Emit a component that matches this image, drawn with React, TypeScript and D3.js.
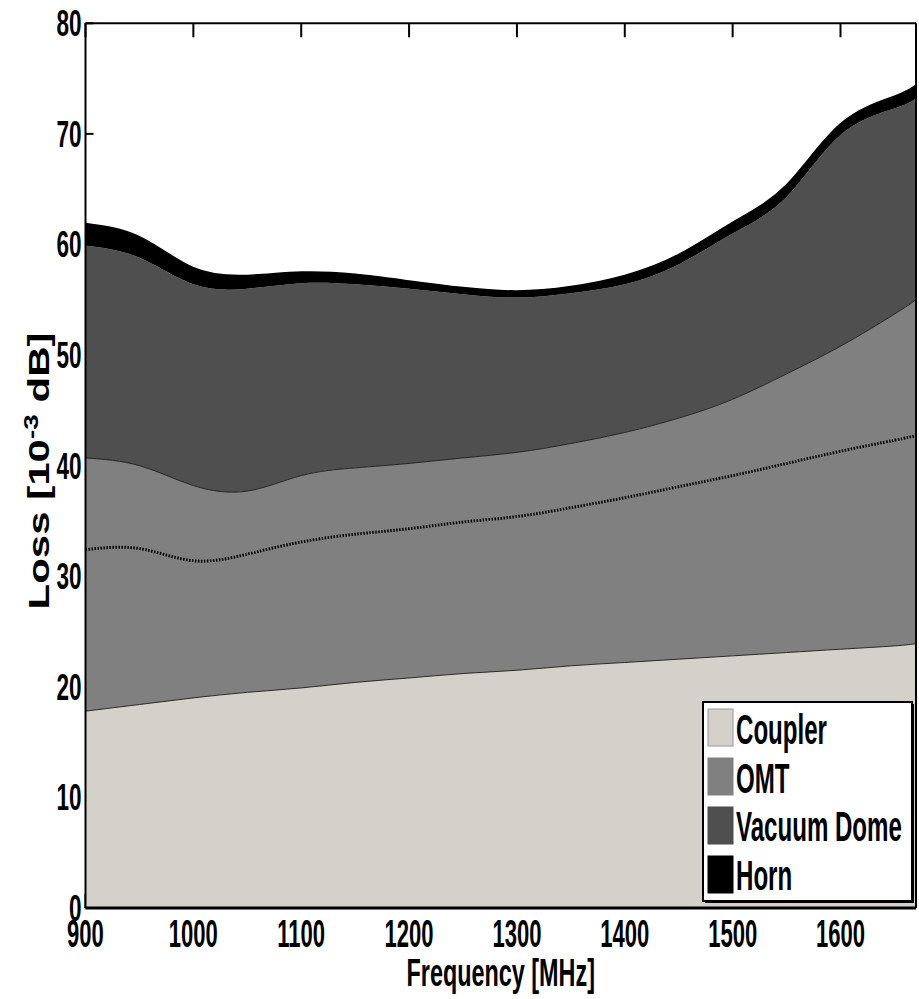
import React from "react";
import * as d3 from "d3";

const freq = [900, 950, 1000, 1050, 1100, 1150, 1200, 1250, 1300, 1350, 1400, 1450, 1500, 1550, 1600, 1650, 1670];
const coupler = [17.8, 18.4, 19.0, 19.5, 19.9, 20.4, 20.8, 21.2, 21.5, 21.9, 22.2, 22.5, 22.8, 23.1, 23.4, 23.7, 23.9];
const omt = [22.9, 21.6, 19.2, 18.2, 19.2, 19.4, 19.4, 19.5, 19.7, 20.1, 20.8, 21.8, 23.2, 25.2, 27.4, 30.0, 31.1];
const vacuumDome = [19.2, 18.8, 18.2, 18.3, 17.4, 16.6, 15.8, 14.8, 14.0, 13.6, 13.4, 13.9, 15.0, 16.0, 19.1, 18.6, 18.2];
const horn = [2.0, 1.9, 1.5, 1.2, 1.0, 0.9, 0.7, 0.6, 0.6, 0.6, 0.8, 0.9, 1.0, 1.1, 1.0, 1.1, 1.2];
// dotted line inside the OMT band (cumulative loss)
const omtDotted = [32.4, 32.5, 31.4, 32.0, 33.1, 33.8, 34.3, 34.9, 35.4, 36.2, 37.1, 38.1, 39.1, 40.2, 41.3, 42.3, 42.7];

const seriesNames = ["Coupler", "OMT", "Vacuum Dome", "Horn"];
const seriesColors = ["#d4d1ca", "#808080", "#4f4f4f", "#000000"];
const xTicks = [900, 1000, 1100, 1200, 1300, 1400, 1500, 1600];
const yTicks = [0, 10, 20, 30, 40, 50, 60, 70, 80];

const W = 919;
const H = 999;
const L = 85.5, R = 916, T = 23.3, B = 908;
const SX = 0.58;

export default function App() {
  const x = d3.scaleLinear().domain([900, 1670]).range([L, R]);
  const y = d3.scaleLinear().domain([0, 80]).range([B, T]);

  const rows = freq.map((f, i) => ({
    f,
    Coupler: coupler[i],
    OMT: omt[i],
    "Vacuum Dome": vacuumDome[i],
    Horn: horn[i],
  }));
  const stack = d3.stack<any>().keys(seriesNames)(rows);
  const curve = d3.curveNatural;
  const area = d3
    .area<any>()
    .x((d) => x(d.data.f))
    .y0((d) => y(d[0]))
    .y1((d) => y(d[1]))
    .curve(curve);
  const topLine = d3
    .line<any>()
    .x((d) => x(d.data.f))
    .y((d) => y(d[1]))
    .curve(curve);
  const dotted = d3
    .line<number>()
    .x((_, i) => x(freq[i]))
    .y((d) => y(d))
    .curve(curve);

  const font = "'Liberation Sans', Arial, Helvetica, sans-serif";

  const legendX = 703, legendY = 702, legendW = 209, legendH = 199;

  return (
    <svg
      width={W}
      height={H}
      style={{ position: "absolute", left: 0, top: 0, background: "#fff" }}
      fontFamily={font}
    >
      <defs>
        <clipPath id="plot">
          <rect x={L} y={T} width={R - L} height={B - T} />
        </clipPath>
      </defs>
      {/* ticks (under fills) */}
      {yTicks.map((t) => (
        <line key={"yt" + t} x1={L} x2={L + 8} y1={y(t)} y2={y(t)} stroke="#000" strokeWidth={2} />
      ))}
      {xTicks.map((t) => (
        <line key={"xt" + t} x1={x(t)} x2={x(t)} y1={T} y2={T + 14} stroke="#000" strokeWidth={2} />
      ))}
      {xTicks.map((t) => (
        <line key={"xb" + t} x1={x(t)} x2={x(t)} y1={B} y2={B - 14} stroke="#000" strokeWidth={2} />
      ))}
      <g clipPath="url(#plot)">
        {stack.map((s, i) => (
          <path key={s.key} d={area(s) || ""} fill={seriesColors[i]} stroke="none" />
        ))}
        {stack.slice(0, 2).map((s) => (
          <path key={"l" + s.key} d={topLine(s) || ""} fill="none" stroke="#1a1a1a" strokeWidth={0.9} />
        ))}
        <path d={topLine(stack[3]) || ""} fill="none" stroke="#000" strokeWidth={1.5} />
        <path
          d={dotted(omtDotted) || ""}
          fill="none"
          stroke="#000"
          strokeWidth={3}
          strokeDasharray="1.5,1.5"
        />
      </g>
      {/* frame */}
      <line x1={L} x2={R} y1={T} y2={T} stroke="#000" strokeWidth={2} />
      <line x1={R} x2={R} y1={T} y2={B} stroke="#000" strokeWidth={2} />
      <line x1={L} x2={L} y1={T} y2={B} stroke="#000" strokeWidth={2} />
      <line x1={L} x2={R} y1={B} y2={B} stroke="#000" strokeWidth={3} />

      {/* y tick labels */}
      {yTicks.map((t) => (
        <text
          key={"yl" + t}
          transform={`translate(${L - 4},${y(t) + 13}) scale(${SX + 0.03},1)`}
          textAnchor="end"
          fontSize={37}
          fontWeight="bold"
        >
          {t}
        </text>
      ))}
      {/* x tick labels */}
      {xTicks.map((t) => (
        <text
          key={"xl" + t}
          transform={`translate(${x(t)},${947}) scale(${SX},1)`}
          textAnchor="middle"
          fontSize={38}
          fontWeight="bold"
        >
          {t}
        </text>
      ))}
      {/* axis labels */}
      <text
        transform={`translate(${(L + R) / 2},${986}) scale(0.6,1)`}
        textAnchor="middle"
        fontSize={39}
        fontWeight="bold"
      >
        Frequency [MHz]
      </text>
      <text
        transform={`translate(49,${471}) scale(0.7,1) rotate(-90)`}
        textAnchor="middle"
        fontSize={42}
        fontWeight="bold"
      >
        Loss [10
        <tspan fontSize={28} dy={-16}>-3</tspan>
        <tspan dy={16}> dB]</tspan>
      </text>

      {/* legend */}
      <rect x={legendX + 2} y={legendY + 2} width={legendW} height={legendH} fill="#000" />
      <rect x={legendX} y={legendY} width={legendW} height={legendH} fill="#fff" stroke="#000" strokeWidth={2} />
      {seriesNames.map((n, i) => (
        <g key={"lg" + n}>
          <rect
            x={708}
            y={709 + i * 49}
            width={25}
            height={37}
            fill={seriesColors[i]}
            stroke={i === 0 ? "#9a9a9a" : seriesColors[i]}
            strokeWidth={1}
          />
          <text
            transform={`translate(${736},${744 + i * 48.5}) scale(0.56,1)`}
            fontSize={43}
            fontWeight="bold"
          >
            {n}
          </text>
        </g>
      ))}
    </svg>
  );
}
